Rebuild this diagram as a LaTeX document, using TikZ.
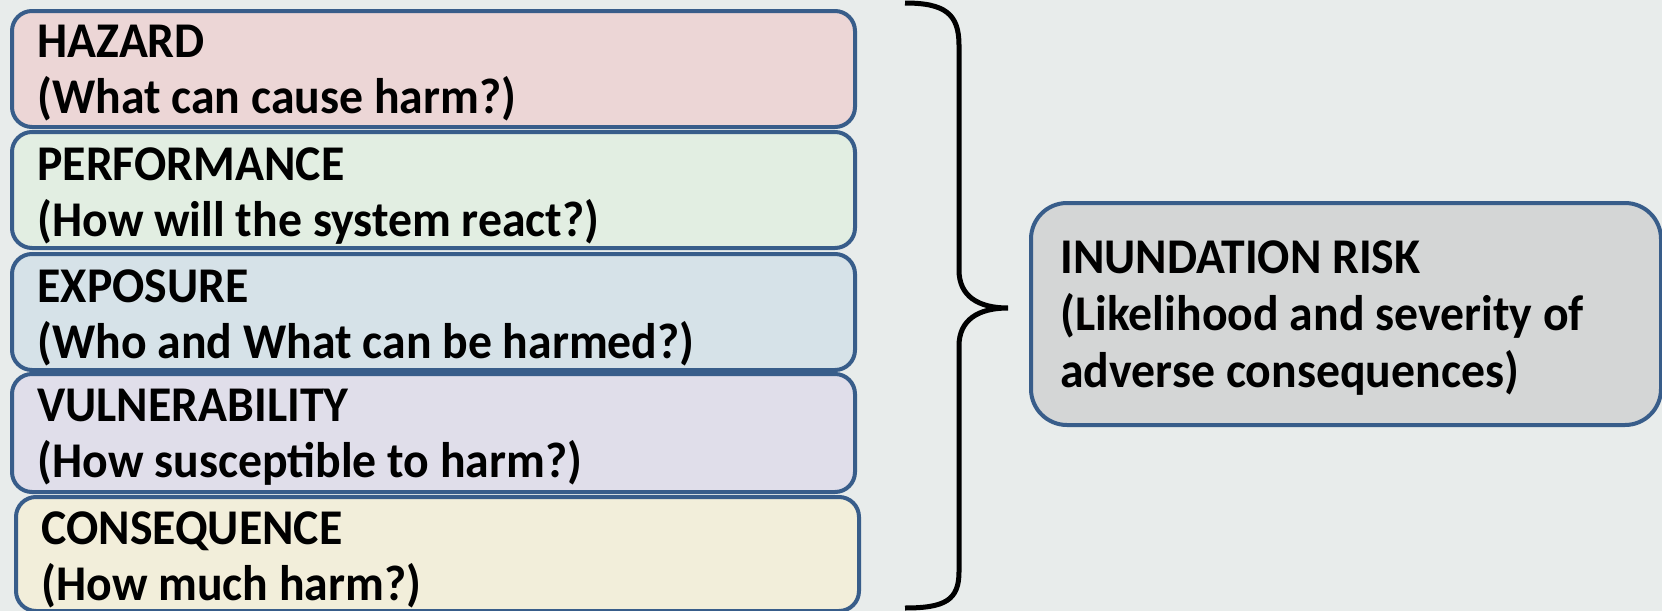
\documentclass[tikz,border=0pt]{standalone}
\usepackage{fontspec}
\setmainfont{Carlito}[FakeStretch=0.955]
\definecolor{edgeblue}{RGB}{56,93,138}
\definecolor{bgcamo}{RGB}{232,236,235}
\definecolor{hazardfill}{RGB}{236,214,214}
\definecolor{perffill}{RGB}{226,238,226}
\definecolor{exposfill}{RGB}{214,226,232}
\definecolor{vulnfill}{RGB}{224,222,234}
\definecolor{consfill}{RGB}{242,238,218}
\definecolor{riskfill}{RGB}{212,214,214}
\tikzset{
  factorbox/.style={draw=edgeblue, line width=2pt, rounded corners=10pt,
    anchor=north west, inner sep=0pt, minimum width=421.5pt,
    minimum height=58pt},
  factortext/.style={anchor=north west, inner sep=0pt, align=left,
    font=\fontsize{25}{28}\selectfont\bfseries},
  riskbox/.style={draw=edgeblue, line width=2pt, rounded corners=18pt,
    anchor=north west, inner sep=0pt, minimum width=315pt,
    minimum height=111pt, fill=riskfill},
}
\begin{document}
\begin{tikzpicture}[x=0.5pt, y=-0.5pt]
  \fill[bgcamo]
    (0,0)
    rectangle
    (1662,611);
  \useasboundingbox
    (0,0)
    rectangle
    (1662,611);
  % the five factors
  \node[factorbox, fill=hazardfill] (hazard) at (10,9) {};
  \node[factorbox, fill=perffill] (performance) at (10,130) {};
  \node[factorbox, fill=exposfill] (exposure) at (10,252) {};
  \node[factorbox, fill=vulnfill, minimum height=59pt] (vulnerability) at (10,372) {};
  \node[factorbox, fill=consfill, minimum height=57pt] (consequence) at (14,495) {};
  \node[factortext] (hazardtxt) at ([shift={(13.5pt,-8pt)}]hazard.north west)
    {HAZARD\\(What can cause harm?)};
  \node[factortext] (performancetxt) at ([shift={(13.5pt,-8.5pt)}]performance.north west)
    {PERFORMANCE\\(How will the system react?)};
  \node[factortext] (exposuretxt) at ([shift={(13.5pt,-8.5pt)}]exposure.north west)
    {EXPOSURE\\(Who and What can be harmed?)};
  \node[factortext] (vulnerabilitytxt) at ([shift={(13.5pt,-8.5pt)}]vulnerability.north west)
    {VULNERABILITY\\(How susceptible to harm?)};
  \node[factortext] (consequencetxt) at ([shift={(13.5pt,-8pt)}]consequence.north west)
    {CONSEQUENCE\\(How much harm?)};
  % brace
  \draw[line width=2.5pt]
    (905,3)
    .. controls (945,3) and (959,14) .. (959,45)
    --
    (959,270)
    .. controls (959,296) and (978,308) .. (1008,308)
    .. controls (978,308) and (959,320) .. (959,346)
    --
    (959,572)
    .. controls (959,600) and (945,608) .. (905,608);
  % the result
  \node[riskbox] (risk) at (1029,201) {};
  \node[factortext, font=\fontsize{25}{28.5}\selectfont\bfseries] (risktxt)
    at ([shift={(15.5pt,-19.5pt)}]risk.north west)
    {INUNDATION RISK\\(Likelihood and severity of\\adverse consequences)};
\end{tikzpicture}
\end{document}
